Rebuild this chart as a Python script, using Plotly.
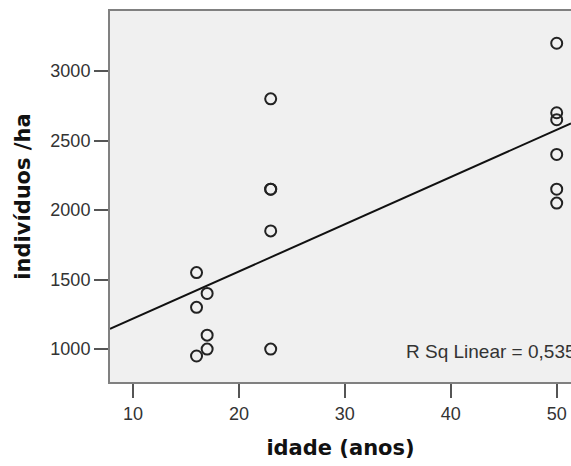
import numpy as np
import plotly.graph_objects as go

idade = [16, 16, 16, 17, 17, 17, 23, 23, 23, 23, 23, 50, 50, 50, 50, 50, 50]
individuos = [1550, 1300, 950, 1400, 1100, 1000, 2800, 2150, 2150, 1850, 1000,
              3200, 2700, 2650, 2400, 2150, 2050]
x_ticks = [10, 20, 30, 40, 50]
y_ticks = [1000, 1500, 2000, 2500, 3000]
x_range = [7.83, 51.35]
y_range = [763, 3432]
r2_label = "R Sq Linear = 0,535"

slope, intercept = np.polyfit(idade, individuos, 1)
lx = np.array(x_range)
ly = slope * lx + intercept

fig = go.Figure()
fig.add_trace(go.Scatter(x=lx, y=ly, mode="lines",
                         line=dict(color="#111111", width=2), hoverinfo="skip"))
fig.add_trace(go.Scatter(x=idade, y=individuos, mode="markers",
                         marker=dict(symbol="circle-open", size=11, color="#222222",
                                     line=dict(width=2, color="#222222"))))

fig.add_annotation(x=35.6, y=985, text=r2_label, showarrow=False,
                   xanchor="left", yanchor="middle",
                   font=dict(family="Liberation Sans, Arial", size=19, color="#333333"))

axis_common = dict(showgrid=False, zeroline=False, showline=True,
                   linecolor="#808080", linewidth=2, ticks="outside",
                   ticklen=14, tickwidth=2, tickcolor="#555555",
                   tickfont=dict(family="Liberation Sans, Arial", size=18, color="#333333"))

fig.update_xaxes(range=x_range, tickvals=x_ticks, mirror=True,
                 title=dict(text="idade (anos)", standoff=18,
                            font=dict(family="DejaVu Sans", size=21, color="#111111")),
                 **axis_common)
fig.update_yaxes(range=y_range, tickvals=y_ticks, mirror=False,
                 title=dict(text="indivíduos /ha", standoff=14,
                            font=dict(family="DejaVu Sans", size=21, color="#111111")),
                 **axis_common)

fig.update_layout(
    width=571, height=466,
    margin=dict(l=110, r=0, t=11, b=84),
    plot_bgcolor="#f0f0f0", paper_bgcolor="#ffffff",
    showlegend=False,
)
fig.layout.xaxis.title.font.weight = "bold"
fig.layout.yaxis.title.font.weight = "bold"

fig.write_html("out.html")
